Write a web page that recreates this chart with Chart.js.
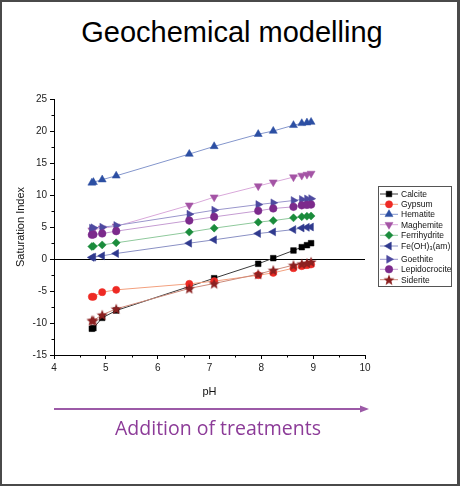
<!DOCTYPE html>
<html>
<head>
<meta charset="utf-8">
<script src="https://cdn.jsdelivr.net/npm/chart.js@4"></script>
<style>
    body { margin: 0; background: #fff; }
    #page { position: relative; width: 460px; height: 486px; overflow: hidden; font-family: "Liberation Sans", Arial, sans-serif; }
    #frame { position: absolute; left: 0; top: 0; width: 460px; height: 486px; box-sizing: border-box; border: 2px solid #4a4a4a; border-right-width: 3px; }
    #title { position: absolute; left: 0; width: 464px; top: 16px; text-align: center; font-size: 29px; color: #000; }
    #chart { position: absolute; left: 0; top: 0; }
    #arrow { position: absolute; left: 0; top: 0; }
    #treat { position: absolute; left: 0; width: 436px; top: 414px; text-align: center; font-family: "Open Sans", sans-serif; font-size: 19.5px; color: #8c3b98; }
</style>
</head>
<body>
<div id="page">
    <div id="frame"></div>
    <div id="title">Geochemical modelling</div>
    <canvas id="chart" width="460" height="400"></canvas>
    <svg id="arrow" width="460" height="486">
        <line x1="54" y1="409" x2="362" y2="409" stroke="#9c5aa7" stroke-width="2"/>
        <polygon points="369,409 360,405.5 360,412.5" fill="#9c5aa7"/>
    </svg>
    <div id="treat">Addition of treatments</div>
</div>
<script>
// pH of each sample (x axis)
const pH = [4.73, 4.76, 4.93, 5.20, 6.61, 7.09, 7.94, 8.23, 8.62, 8.78, 8.88, 8.96];

// saturation index per mineral
const calcite = [-10.9, -10.8, -9.2, -8.05, -4.3, -3.0, -0.75, 0.13, 1.33, 1.85, 2.16, 2.47];
const gypsum = [-5.9, -5.9, -5.18, -4.82, -3.88, -3.46, -2.53, -2.16, -1.43, -1.12, -0.96, -0.86];
const hematite = [11.9, 12.0, 12.4, 13.0, 16.4, 17.6, 19.5, 20.0, 20.9, 21.2, 21.3, 21.4];
const maghemite = [4.5, 4.6, 4.8, 5.1, 8.4, 9.66, 11.4, 12.0, 12.8, 13.05, 13.2, 13.36];
const ferrihydrite = [1.95, 2.0, 2.2, 2.53, 4.2, 4.82, 5.76, 6.0, 6.43, 6.6, 6.68, 6.72];
const feoh3 = [0.25, 0.3, 0.5, 0.86, 2.47, 3.0, 3.98, 4.24, 4.6, 4.85, 4.95, 5.0];
const goethite = [4.8, 4.87, 4.97, 5.23, 7.0, 7.63, 8.5, 8.77, 9.14, 9.3, 9.38, 9.42];
const lepidocrocite = [3.78, 3.83, 3.98, 4.35, 6.0, 6.58, 7.52, 7.89, 8.15, 8.38, 8.45, 8.5];
const siderite = [-9.6, -9.6, -8.73, -7.79, -4.6, -3.83, -2.37, -1.74, -0.96, -0.75, -0.65, -0.44];

const xTicks = [4, 5, 6, 7, 8, 9, 10];
const yTicks = [-15, -10, -5, 0, 5, 10, 15, 20, 25];

// filled star marker for siderite (chart.js 'star' is only strokes)
function makeStar(color) {
    const c = document.createElement('canvas');
    c.width = 12; c.height = 12;
    const g = c.getContext('2d');
    g.beginPath();
    for (let i = 0; i < 10; i++) {
        const r = i % 2 === 0 ? 5.8 : 2.5;
        const a = -Math.PI / 2 + i * Math.PI / 5;
        const px = 6 + r * Math.cos(a), py = 6.5 + r * Math.sin(a);
        if (i === 0) g.moveTo(px, py); else g.lineTo(px, py);
    }
    g.closePath();
    g.fillStyle = color;
    g.fill();
    return c;
}

function series(label, values, marker, line, style, radius, rotation) {
    return {
        label: label,
        data: pH.map((x, i) => ({ x: x, y: values[i] })),
        borderColor: line,
        backgroundColor: marker,
        pointBorderColor: marker,
        pointBackgroundColor: marker,
        pointStyle: style,
        pointRadius: radius,
        pointRotation: rotation || 0,
        pointBorderWidth: 0.5,
        borderWidth: 1,
        tension: 0
    };
}

const datasets = [
    series('Calcite', calcite, '#000000', '#3a3a3a', 'rect', 4),
    series('Gypsum', gypsum, '#ee2a24', '#f3a07e', 'circle', 3.6),
    series('Hematite', hematite, '#2c4fa3', '#8496cc', 'triangle', 4.6),
    series('Maghemite', maghemite, '#a454a5', '#d9a8da', 'triangle', 4.6, 180),
    series('Ferrihydrite', ferrihydrite, '#1b8c3c', '#8fc99c', 'rectRot', 4),
    series('Fe(OH)\u2083(am)', feoh3, '#303a8e', '#8a90c4', 'triangle', 4.6, -90),
    series('Goethite', goethite, '#4e4aa0', '#9a96cc', 'triangle', 4.6, 90),
    series('Lepidocrocite', lepidocrocite, '#7c2a8c', '#c59cd2', 'circle', 3.8),
    series('Siderite', siderite, '#8b2020', '#cc8a7a', makeStar('#8b2020'), 6)
];
datasets.forEach((d, i) => d.order = datasets.length - i);

// small minor ticks half way between the labelled ones
const minorTicks = {
    id: 'minorTicks',
    afterDraw(chart) {
        const ctx = chart.ctx;
        const xs = chart.scales.x, ys = chart.scales.y;
        ctx.save();
        ctx.strokeStyle = '#000';
        ctx.lineWidth = 1;
        ctx.beginPath();
        for (let i = 0; i < xTicks.length - 1; i++) {
            const px = Math.round(xs.getPixelForValue(xTicks[i] + 0.5)) + 0.5;
            ctx.moveTo(px, ys.bottom);
            ctx.lineTo(px, ys.bottom + 2.5);
        }
        for (let i = 0; i < yTicks.length - 1; i++) {
            const py = Math.round(ys.getPixelForValue(yTicks[i] + 2.5)) + 0.5;
            ctx.moveTo(xs.left, py);
            ctx.lineTo(xs.left - 2.5, py);
        }
        ctx.stroke();
        ctx.restore();
    }
};

// boxed legend with a line through each marker
const boxLegend = {
    id: 'boxLegend',
    afterDraw(chart) {
        const ctx = chart.ctx;
        const rowsY = [194, 204.3, 214.3, 224.7, 235.3, 246, 259.3, 269.3, 279.7];
        ctx.save();
        ctx.strokeStyle = '#555';
        ctx.lineWidth = 1;
        ctx.strokeRect(378.5, 186.5, 73, 100);
        ctx.font = '8.5px "Liberation Sans", Arial, sans-serif';
        ctx.textBaseline = 'middle';
        chart.data.datasets.forEach((d, i) => {
            const y = rowsY[i];
            ctx.strokeStyle = d.borderColor;
            ctx.lineWidth = 1;
            ctx.beginPath();
            ctx.moveTo(380, y);
            ctx.lineTo(398, y);
            ctx.stroke();
            ctx.fillStyle = d.pointBackgroundColor;
            ctx.strokeStyle = d.pointBorderColor;
            ctx.lineWidth = 0.5;
            Chart.helpers.drawPoint(ctx, {
                pointStyle: d.pointStyle,
                radius: d.pointRadius,
                rotation: d.pointRotation,
                borderWidth: 0.5
            }, 389, y);
            ctx.fillStyle = '#111';
            ctx.fillText(d.label, 401, y + 0.5);
        });
        ctx.restore();
    }
};

const tickFont = { family: '"Liberation Sans", Arial, sans-serif', size: 10 };

new Chart(document.getElementById('chart'), {
    type: 'line',
    data: { datasets: datasets },
    options: {
        responsive: false,
        animation: false,
        layout: { padding: { left: 0, top: 99, right: 95, bottom: 0 } },
        plugins: {
            legend: { display: false },
            tooltip: { enabled: false }
        },
        scales: {
            x: {
                type: 'linear',
                min: 4,
                max: 10,
                afterFit: s => { s.height = 45; },
                afterBuildTicks: s => { s.ticks = xTicks.map(v => ({ value: v })); },
                border: { color: '#000', width: 1 },
                grid: { drawOnChartArea: false, color: '#000', tickLength: 4 },
                ticks: { color: '#222', font: tickFont, padding: 3, maxRotation: 0 },
                title: { display: true, text: 'pH', color: '#111', font: { family: '"Liberation Sans", Arial, sans-serif', size: 11 }, padding: { top: 4, bottom: 1 } }
            },
            y: {
                min: -15,
                max: 25,
                afterFit: s => { s.width = 54; },
                afterBuildTicks: s => { s.ticks = yTicks.map(v => ({ value: v })); },
                border: { color: '#000', width: 1 },
                grid: {
                    color: ctx => ctx.tick && ctx.tick.value === 0 ? '#000' : 'rgba(0,0,0,0)',
                    tickColor: '#000',
                    tickLength: 4,
                    lineWidth: 1
                },
                ticks: { color: '#222', font: tickFont, padding: 3 },
                title: { display: true, text: 'Saturation Index', color: '#111', font: { family: '"Liberation Sans", Arial, sans-serif', size: 11 }, padding: { top: 14, bottom: 0 } }
            }
        }
    },
    plugins: [minorTicks, boxLegend]
});
</script>
</body>
</html>
